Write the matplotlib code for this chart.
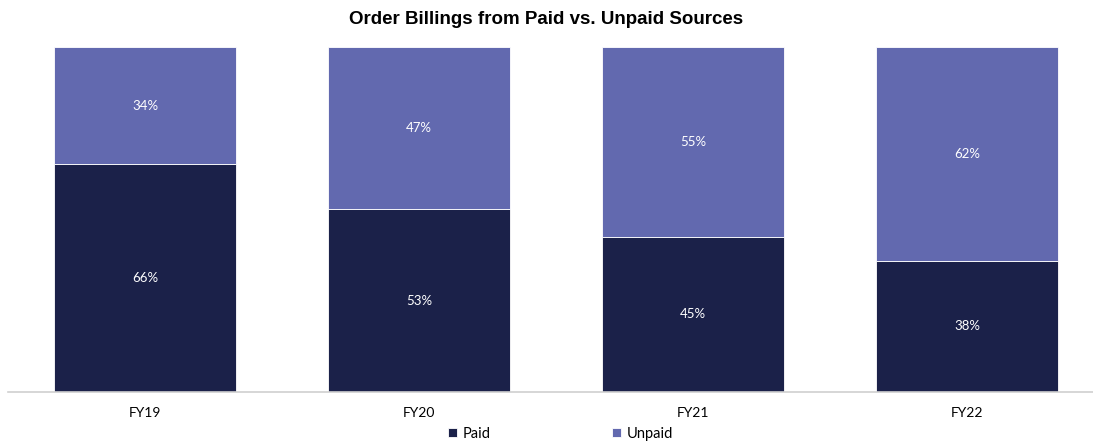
import matplotlib.pyplot as plt

# Paid vs unpaid share of order billings
years = ['FY19', 'FY20', 'FY21', 'FY22']
paid = [66, 53, 45, 38]
unpaid = [34, 47, 55, 62]

paid_color = '#1b2149'
unpaid_color = '#6269af'

fig = plt.figure(figsize=(10.93, 4.43), dpi=100)
ax = fig.add_axes([8 / 1093, 51 / 443, 1 - 8 / 1093, 345 / 443])

x = range(len(years))
ax.bar(x, paid, width=182 / 274, color=paid_color, edgecolor='white', linewidth=0.6, label='Paid')
ax.bar(x, unpaid, width=182 / 274, bottom=paid, color=unpaid_color, edgecolor='white', linewidth=0.6, label='Unpaid')

for i in x:
    ax.text(i, paid[i] / 2, f'{paid[i]}%', ha='center', va='center', color='white', fontsize=9.5, family='Lato')
    ax.text(i, paid[i] + unpaid[i] / 2, f'{unpaid[i]}%', ha='center', va='center', color='white', fontsize=9.5, family='Lato')

ax.set_xlim(-0.5, (1093 - 145) / 274)
ax.set_ylim(0, 100)
ax.set_xticks(list(x))
ax.set_xticklabels(years, fontsize=10, family='Lato')
ax.tick_params(axis='x', length=0, pad=11)
ax.set_yticks([])
for side in ['top', 'right', 'left']:
    ax.spines[side].set_visible(False)
ax.spines['bottom'].set_color('#d0d0d0')
ax.spines['bottom'].set_linewidth(1.2)

fig.suptitle('Order Billings from Paid vs. Unpaid Sources', fontsize=13.5, fontweight='bold',
             family='Liberation Sans', y=1 - 19 / 443, va='center')

fig.legend(loc='center', bbox_to_anchor=(0.513, 1 - 434 / 443), ncol=2, frameon=False,
           prop={'family': 'Lato', 'size': 10.5}, handlelength=0.6, handleheight=0.6,
           columnspacing=8.3, handletextpad=0.4)

fig.savefig('out.png', dpi=100)
